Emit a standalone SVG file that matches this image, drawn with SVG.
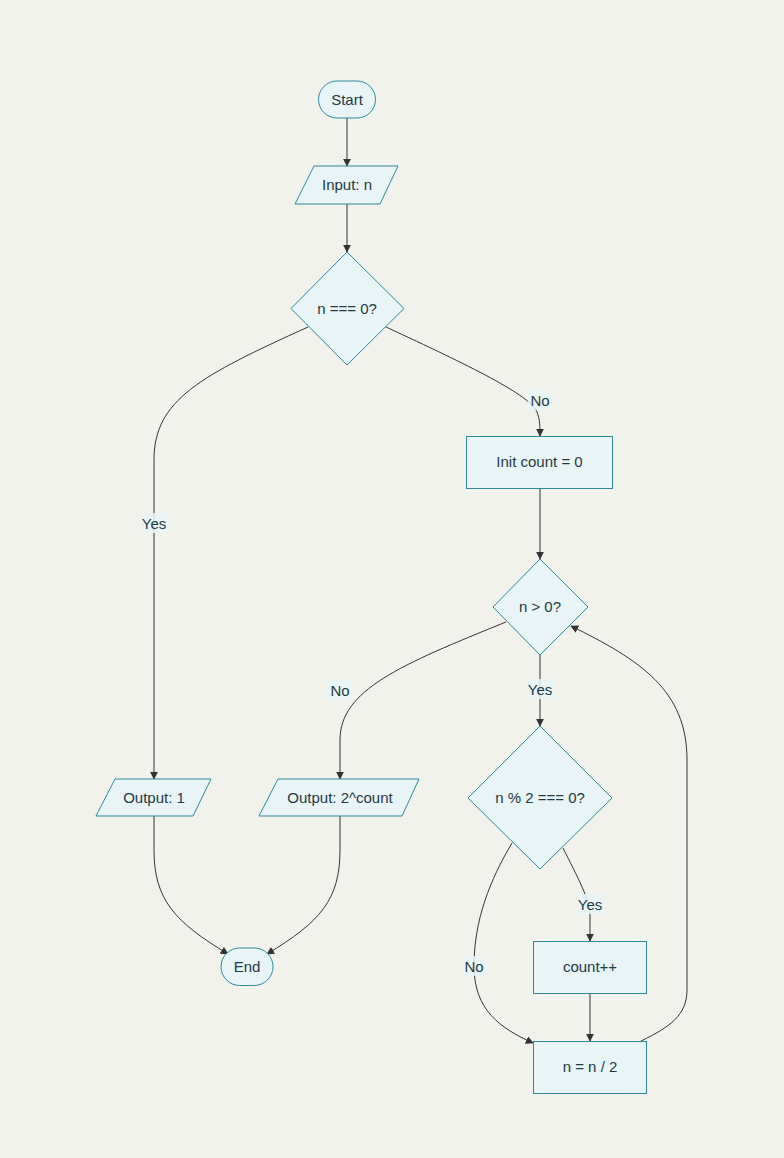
<svg xmlns="http://www.w3.org/2000/svg" width="784" height="1158" viewBox="0 0 784 1158">
  <style>
    .node { fill: #e9f4f6; stroke: #2c8a99; stroke-width: 1; }
    .lbl { font-family: "Liberation Sans", Arial, sans-serif; font-size: 15px; fill: #1e3a44; text-anchor: middle; dominant-baseline: central; }
    .edge { fill: none; stroke: #333333; stroke-width: 1; }
    .ebg { fill: #e9f4f6; opacity: 0.85; }
  </style>
  <defs>
    <marker id="arrow" viewBox="0 0 10 10" refX="9" refY="5" markerWidth="8" markerHeight="8" markerUnits="userSpaceOnUse" orient="auto">
      <path d="M0,0 L10,5 L0,10 z" fill="#333333"/>
    </marker>
  </defs>
  <rect width="784" height="1158" fill="#f2f2ed"/>

  <!-- connectors -->
  <g id="edges">
    <path class="edge" d="M347,118 L347,166" marker-end="url(#arrow)"/>
    <path class="edge" d="M347,204 L347,252" marker-end="url(#arrow)"/>
    <path class="edge" d="M308,327 C200,376 154,400 154,460 L154,779" marker-end="url(#arrow)"/>
    <path class="edge" d="M386,327 C470,366 530,395 537,412 C540,420 540,426 540,436" marker-end="url(#arrow)"/>
    <path class="edge" d="M540,488 L540,559" marker-end="url(#arrow)"/>
    <path class="edge" d="M506,622 C400,665 340,690 340,740 L340,779" marker-end="url(#arrow)"/>
    <path class="edge" d="M540,654 L540,726" marker-end="url(#arrow)"/>
    <path class="edge" d="M563,848 C578,878 590,900 590,915 L590,941" marker-end="url(#arrow)"/>
    <path class="edge" d="M512,843 C490,880 474,920 474,966 C474,1010 500,1028 533,1043" marker-end="url(#arrow)"/>
    <path class="edge" d="M590,993 L590,1041" marker-end="url(#arrow)"/>
    <path class="edge" d="M641,1041 C670,1027 687,1015 687,990 L687,760 C687,690 640,660 571,626" marker-end="url(#arrow)"/>
    <path class="edge" d="M154,816 L154,850 C154,900 175,922 228,954" marker-end="url(#arrow)"/>
    <path class="edge" d="M340,816 L340,850 C340,900 320,922 267,954" marker-end="url(#arrow)"/>

    <!-- edge labels -->
    <rect class="ebg" x="141" y="513" width="26" height="20"/>
    <text class="lbl" x="154" y="523">Yes</text>
    <rect class="ebg" x="528" y="390" width="23" height="20"/>
    <text class="lbl" x="540" y="400">No</text>
    <rect class="ebg" x="328" y="680" width="23" height="20"/>
    <text class="lbl" x="340" y="690">No</text>
    <rect class="ebg" x="527" y="679" width="26" height="20"/>
    <text class="lbl" x="540" y="689">Yes</text>
    <rect class="ebg" x="577" y="894" width="26" height="20"/>
    <text class="lbl" x="590" y="904">Yes</text>
    <rect class="ebg" x="463" y="956" width="23" height="20"/>
    <text class="lbl" x="474" y="966">No</text>
  </g>

  <g id="start">
    <rect class="node" x="318.5" y="81" width="57" height="37" rx="18.5"/>
    <text class="lbl" x="347" y="99">Start</text>
  </g>
  <g id="input">
    <polygon class="node" points="314,166 398,166 380,204 295,204"/>
    <text class="lbl" x="347" y="184.5">Input: n</text>
  </g>
  <g id="check-zero">
    <polygon class="node" points="347,252 404,308.5 347,365 291,308.5"/>
    <text class="lbl" x="347" y="308">n === 0?</text>
  </g>
  <g id="init-count">
    <rect class="node" x="466.5" y="436.5" width="146" height="52"/>
    <text class="lbl" x="539.5" y="461.5">Init count = 0</text>
  </g>
  <g id="loop-check">
    <polygon class="node" points="540,559 588,607 540,655 493,607"/>
    <text class="lbl" x="540" y="606.5">n &gt; 0?</text>
  </g>
  <g id="even-check">
    <polygon class="node" points="540,726 612,798 540,869 468,798"/>
    <text class="lbl" x="540" y="797.5">n % 2 === 0?</text>
  </g>
  <g id="increment">
    <rect class="node" x="533.5" y="941.5" width="113" height="52"/>
    <text class="lbl" x="590" y="966.5">count++</text>
  </g>
  <g id="halve">
    <rect class="node" x="533.5" y="1041.5" width="113" height="52"/>
    <text class="lbl" x="590" y="1066.5">n = n / 2</text>
  </g>
  <g id="output-one">
    <polygon class="node" points="115,779 211,779 193,816 96,816"/>
    <text class="lbl" x="154" y="797">Output: 1</text>
  </g>
  <g id="output-pow">
    <polygon class="node" points="278,779 419,779 402,816 259,816"/>
    <text class="lbl" x="340" y="797">Output: 2^count</text>
  </g>
  <g id="end">
    <rect class="node" x="221" y="948" width="52" height="37.5" rx="18.75"/>
    <text class="lbl" x="247" y="966">End</text>
  </g>
</svg>
